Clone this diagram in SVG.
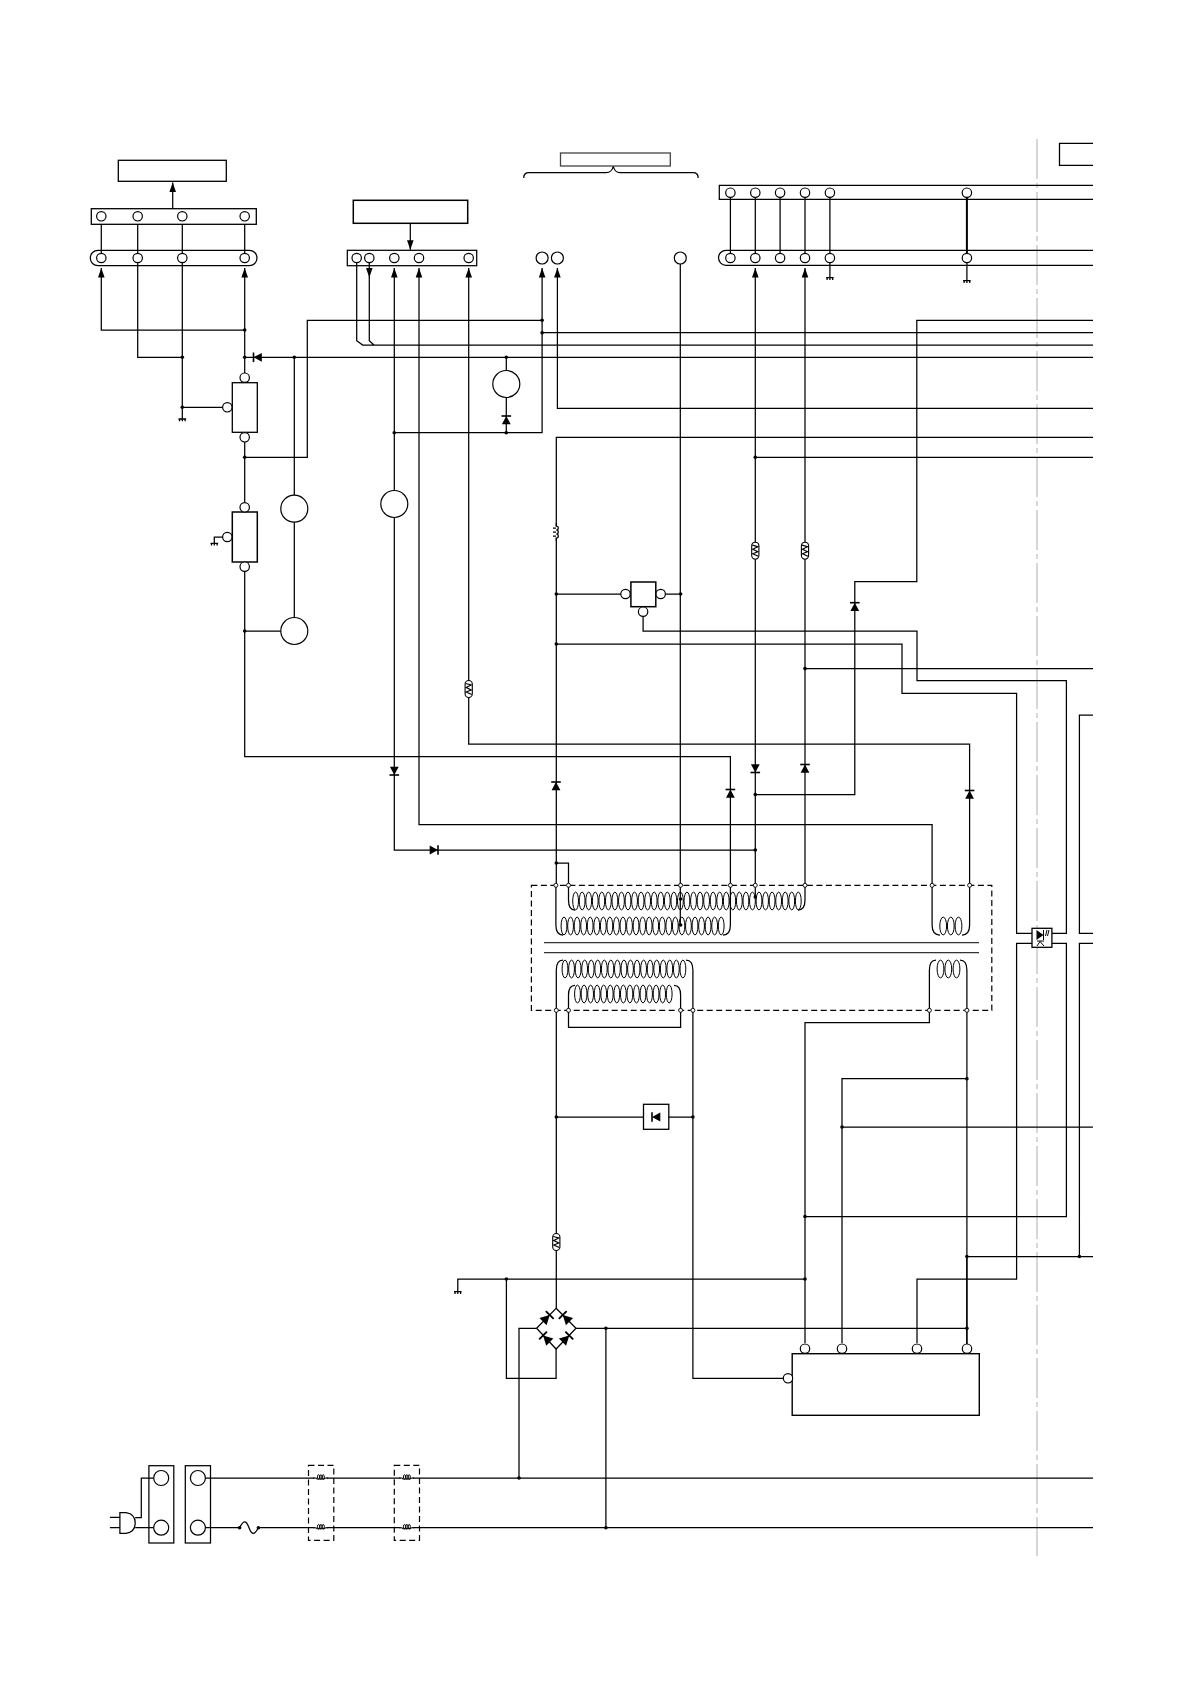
<svg xmlns="http://www.w3.org/2000/svg" xmlns:xlink="http://www.w3.org/1999/xlink" width="1191" height="1685" viewBox="0 0 1191 1685">
<style>
.w{fill:none;stroke:#000;stroke-width:1.25}
.a{fill:none;stroke:#000;stroke-width:1.25;marker-end:url(#arr)}
.b{fill:#fff;stroke:#000;stroke-width:1.3}
.t{fill:#fff;stroke:#000;stroke-width:1.2}
.o{fill:#fff;stroke:#000;stroke-width:.9}
.d{fill:#000}
.dash{fill:none;stroke:#000;stroke-width:1.2;stroke-dasharray:6 3.5}
.l{fill:none;stroke:#000;stroke-width:1}
.core{fill:none;stroke:#333;stroke-width:1.3}
.c{fill:none;stroke:#ccc;stroke-width:1.6;stroke-dasharray:40 4 5 4}
</style>
<defs>
<marker id="arr" markerUnits="userSpaceOnUse" markerWidth="10" markerHeight="10" refX="9.5" refY="5" orient="auto"><path d="M0 1.7 L9.5 5 L0 8.3Z" fill="#000"/></marker>
<circle id="p" r="4.7" class="t"/>
<circle id="s" r="2" class="o"/>
<circle id="j" r="1.8" class="d"/>
<g id="gnd"><path d="M-3.8 0H3.8M-2.8 0V2.2M0 0V2.2M2.8 0V2.2" fill="none" stroke="#000" stroke-width="1.3"/></g>
<g id="dio"><path d="M-4.3 -4.4L4 0L-4.3 4.4Z" fill="#000"/><path d="M4 -4.8V4.8" stroke="#000" stroke-width="1.6"/></g>
<g id="coil"><rect x="-3.6" y="-8.5" width="7.2" height="17" rx="3.6" class="t" style="stroke-width:1.1"/><path d="M-3 -5.5L2.5 -4L-2.5 -1.5L2.5 1L-2.5 3L3 5.5" fill="none" stroke="#000" stroke-width="1.2"/></g>
<g id="mc"><rect x="-6" y="-4.5" width="12" height="6" fill="#fff"/><path d="M-7.5 0H-5.5Q-4 0 -3.5 1H3.5Q4 0 5.5 0H7.5" fill="none" stroke="#000" stroke-width="1.1"/><ellipse cx="-2" cy="-1" rx="1.1" ry="2.3" fill="none" stroke="#000" stroke-width="1"/><ellipse cx="0.3" cy="-1" rx="1.1" ry="2.3" fill="none" stroke="#000" stroke-width="1"/><ellipse cx="2.6" cy="-1" rx="1.1" ry="2.3" fill="none" stroke="#000" stroke-width="1"/></g>
<ellipse id="l1" rx="2.9" ry="8.9" class="l"/>
<g id="l5"><use xlink:href="#l1"/><use xlink:href="#l1" x="6.55"/><use xlink:href="#l1" x="13.1"/><use xlink:href="#l1" x="19.65"/><use xlink:href="#l1" x="26.2"/></g>
<g id="l10"><use xlink:href="#l5"/><use xlink:href="#l5" x="32.75"/></g>
</defs>

<path id="centre-line" class="c" d="M1037 139V1556"/>

<g id="connectors">
<path class="a" d="M244.7 330H101.3V268"/>
<path class="a" d="M244.7 372.9V268"/>
<path class="w" d="M182.3 357.3H137.7V258M182.3 419V258M182.3 407.3H222.6M1093 357.3H244.7M294.3 357.3V495.3M294.3 522V617.5M244.7 442V502.6M244.7 457.3H307.3V320.3H542.1M244.7 571.4V756.5H730.4V885.3M244.7 631H281M222.6 537H214.3V543.3"/>
<path class="w" d="M101.3 216.3V258M137.7 216.3V258M182.3 216.3V258M244.7 216.3V258"/>
<path class="a" d="M172.7 208.7V182.4"/>
<path class="a" d="M410.3 223.5V249.8"/>
<path class="w" d="M356.7 258V340.7L362.7 345H1093M369.3 277V340.7L374 345"/>
<path class="a" d="M369.3 258V277.4"/>
<path class="a" d="M755.3 850H394.3V268"/>
<path class="a" d="M394.3 432.7H542.1V268"/>
<path class="w" d="M506.3 357.3V370.5M506.3 397.5V432.7M542.1 332.7H1093"/>
<path class="a" d="M932.1 885.3V824.5H419V268"/>
<path class="a" d="M969.6 885.3V744H468.7V268"/>
<path class="a" d="M1093 408.3H557.4V268"/>
<path class="w" d="M1093 437.3H556.3V885.3"/>
<path class="a" d="M755.3 897V268"/>
<path class="a" d="M805 885.3V268"/>
<path class="w" d="M755.3 457.3H1093M805 668.6H1093M680.3 264V925M1093 320.3H916.8V581.7H854.8V794.6H755.3"/>
<path class="w" d="M556.3 594H621M665.4 594H680.3M643.1 616.4V631H917V680.5H1066.4V933.3H1052M556.3 644H902V693.4H1016.6V933.3H1032M1032 943.3H1016.6V1279H917V1343M1052 943.3H1066.4V1216.5H805M1093 715H1079.4V933.3H1093M1093 943.3H1079.4V1256.5M966.9 1256.5H1093"/>
<path class="w" d="M556.3 1010.3V1308.3M692.9 1010.3V1378.3H783.3M568.5 1010.3V1027.3H680.6V1010.3M929.4 1010.3V1022.7H805V1343M842 1343V1078.7H966.9M842 1127H1093M556.3 1117H692.9M457.8 1291.7V1279H805M506.4 1279V1378.3H556.1V1349M536.6 1328.3H519V1478M576 1328.3H966.9M605.9 1328.3V1527.7M556.3 863H568.5V885.3"/>
<path class="w" d="M966.9 1010.3V1256.5"/>
<path fill="none" stroke="#000" stroke-width="1.7" d="M966.9 1256.5V1344"/>
<path class="w" d="M205.4 1478H1093M205.4 1527.7H239.6M258.4 1527.7H1093M135.2 1517.7H141.3V1478H153.7M135.2 1527.7H153.7"/>
<path class="w" d="M730.4 192.7V258M755.3 192.7V258M780.1 192.7V258M805 192.7V258M829.9 192.7V258"/>
<path fill="none" stroke="#000" stroke-width="2" d="M966.9 192.7V258"/>
<path class="w" d="M829.9 258V277.7M966.9 258V280.7"/>
<path class="w" d="M523.7 178Q523.7 172.7 529 172.7H606Q612 172.7 613.3 166Q614.6 172.7 620 172.7H693Q698.2 172.7 698.2 178"/>
<g id="junctions">
<use xlink:href="#j" x="244.7" y="330"/><use xlink:href="#j" x="244.7" y="357.3"/><use xlink:href="#j" x="182.3" y="357.3"/><use xlink:href="#j" x="182.3" y="407.3"/><use xlink:href="#j" x="244.7" y="457.3"/><use xlink:href="#j" x="244.7" y="631"/><use xlink:href="#j" x="294.3" y="357.3"/><use xlink:href="#j" x="542.1" y="320.3"/><use xlink:href="#j" x="542.1" y="332.7"/><use xlink:href="#j" x="506.3" y="357.3"/><use xlink:href="#j" x="506.3" y="432.7"/><use xlink:href="#j" x="394.3" y="432.7"/><use xlink:href="#j" x="755.3" y="457.3"/><use xlink:href="#j" x="556.3" y="594"/><use xlink:href="#j" x="680.6" y="594"/><use xlink:href="#j" x="556.3" y="644"/><use xlink:href="#j" x="805" y="668.6"/><use xlink:href="#j" x="755.3" y="794.6"/><use xlink:href="#j" x="755.3" y="850"/><use xlink:href="#j" x="556.3" y="863"/><use xlink:href="#j" x="966.9" y="1078.7"/><use xlink:href="#j" x="842" y="1127"/><use xlink:href="#j" x="556.3" y="1117"/><use xlink:href="#j" x="692.9" y="1117"/><use xlink:href="#j" x="805" y="1216.5"/><use xlink:href="#j" x="966.9" y="1256.5"/><use xlink:href="#j" x="1079.4" y="1256.5"/><use xlink:href="#j" x="506.4" y="1279"/><use xlink:href="#j" x="805" y="1279"/><use xlink:href="#j" x="966.9" y="1328.3"/><use xlink:href="#j" x="605.9" y="1328.3"/><use xlink:href="#j" x="519" y="1478"/><use xlink:href="#j" x="605.9" y="1527.7"/><use xlink:href="#j" x="680.6" y="899"/><use xlink:href="#j" x="680.6" y="925"/><use xlink:href="#j" x="755.3" y="897"/>
</g>
<g id="grounds">
<use xlink:href="#gnd" x="182.3" y="419"/><use xlink:href="#gnd" x="214.3" y="543.3"/><use xlink:href="#gnd" x="829.9" y="277.7"/><use xlink:href="#gnd" x="966.9" y="280.7"/><use xlink:href="#gnd" x="457.8" y="1291.7"/>
</g>
<g id="diodes">
<use xlink:href="#dio" transform="translate(257.5 357.3) rotate(180)"/>
<use xlink:href="#dio" transform="translate(506.3 420) rotate(-90)"/>
<use xlink:href="#dio" transform="translate(854.8 606.7) rotate(-90)"/>
<use xlink:href="#dio" transform="translate(394.3 771) rotate(90)"/>
<use xlink:href="#dio" transform="translate(434 850)"/>
<use xlink:href="#dio" transform="translate(556 786) rotate(-90)"/>
<use xlink:href="#dio" transform="translate(730.4 793.5) rotate(-90)"/>
<use xlink:href="#dio" transform="translate(755.3 768.5) rotate(90)"/>
<use xlink:href="#dio" transform="translate(805 768.5) rotate(-90)"/>
<use xlink:href="#dio" transform="translate(969.6 794.5) rotate(-90)"/>
</g>
<g id="inline-coils">
<use xlink:href="#coil" x="468.7" y="689"/><use xlink:href="#coil" x="755.3" y="550.7"/><use xlink:href="#coil" x="805" y="550.7"/><use xlink:href="#coil" x="556.3" y="1242"/>
<path fill="#fff" d="M554 526h4v12h-4z"/>
<path class="w" d="M556.3 523V526A2 2 0 1 1 556.3 530A2 2 0 1 1 556.3 534A2 2 0 1 1 556.3 538V541M553 528H556M553 532H556M553 536H556"/>
</g>
</g>

<g id="n-box1"><rect class="b" x="118.3" y="160.3" width="108" height="21"/></g>
<g id="n-conn1"><rect class="b" x="91.3" y="208.7" width="165" height="15.6"/><use xlink:href="#p" x="101.3" y="216.3"/><use xlink:href="#p" x="137.7" y="216.3"/><use xlink:href="#p" x="182.3" y="216.3"/><use xlink:href="#p" x="244.7" y="216.3"/></g>
<g id="n-conn1b"><rect class="w" x="90.3" y="250.3" width="166.7" height="15.4" rx="7.7"/><use xlink:href="#p" x="101.3" y="258"/><use xlink:href="#p" x="137.7" y="258"/><use xlink:href="#p" x="182.3" y="258"/><use xlink:href="#p" x="244.7" y="258"/></g>
<g id="n-box2"><rect class="b" x="353.3" y="200.3" width="114.4" height="23" style="stroke-width:1.5"/></g>
<g id="n-conn2"><rect class="w" x="347.3" y="250.3" width="129.4" height="15.4"/><use xlink:href="#p" x="356.7" y="258"/><use xlink:href="#p" x="369.3" y="258"/><use xlink:href="#p" x="394.3" y="258"/><use xlink:href="#p" x="419" y="258"/><use xlink:href="#p" x="468.7" y="258"/></g>
<g id="n-box3"><rect class="b" x="560.5" y="153" width="109.8" height="13" style="stroke:#444"/></g>
<g id="n-term3"><circle class="t" cx="542.1" cy="258" r="6"/><circle class="t" cx="557.4" cy="258" r="6"/><circle class="t" cx="680.3" cy="258" r="6"/></g>
<g id="n-box4"><path class="b" style="fill:none" d="M1093 143.3H1059.5V165.3H1093"/></g>
<g id="n-conn4"><path class="w" d="M1093 185.3H719.3V199.3H1093"/><use xlink:href="#p" x="730.4" y="192.7"/><use xlink:href="#p" x="755.3" y="192.7"/><use xlink:href="#p" x="780.1" y="192.7"/><use xlink:href="#p" x="805" y="192.7"/><use xlink:href="#p" x="829.9" y="192.7"/><use xlink:href="#p" x="966.9" y="192.7"/></g>
<g id="n-conn4b"><path class="w" d="M1093 250.3H726A7.5 7.5 0 0 0 726 265.3H1093"/><use xlink:href="#p" x="730.4" y="258"/><use xlink:href="#p" x="755.3" y="258"/><use xlink:href="#p" x="780.1" y="258"/><use xlink:href="#p" x="805" y="258"/><use xlink:href="#p" x="829.9" y="258"/><use xlink:href="#p" x="966.9" y="258"/></g>
<g id="n-reg1"><rect class="b" x="232.3" y="382.7" width="25" height="49.6"/><use xlink:href="#p" x="244.7" y="377.7"/><use xlink:href="#p" x="244.7" y="437.3"/><use xlink:href="#p" x="227.3" y="407.3"/></g>
<g id="n-reg2"><rect class="b" x="232.3" y="512" width="25" height="50" style="stroke-width:1.5"/><use xlink:href="#p" x="244.7" y="507.3"/><use xlink:href="#p" x="244.7" y="566.7"/><use xlink:href="#p" x="227.3" y="537"/></g>
<g id="n-m1"><circle class="t" cx="294.3" cy="508.7" r="13.5"/></g>
<g id="n-m2"><circle class="t" cx="294.3" cy="631" r="13.5"/></g>
<g id="n-m3"><circle class="t" cx="394.3" cy="504" r="13.5"/></g>
<g id="n-m4"><circle class="t" cx="506.3" cy="384" r="13.5"/></g>
<g id="n-ic1"><rect class="b" x="630.9" y="582" width="24.9" height="24.7" style="stroke-width:1.5"/><use xlink:href="#p" x="625.5" y="594"/><use xlink:href="#p" x="660.7" y="594"/><use xlink:href="#p" x="643.1" y="611.7"/></g>

<g id="n-transformer">
<rect class="dash" x="531.4" y="885.3" width="460.4" height="125"/>
<path class="core" d="M544 942.7H979M544 952.7H979"/>
<path class="w" d="M568.5 885.3V900Q568.5 910 575 910M798 910Q805 910 805 900V885.3"/>
<use xlink:href="#l10" x="575.6" y="901"/><use xlink:href="#l10" x="641.1" y="901"/><use xlink:href="#l10" x="706.6" y="901"/><use xlink:href="#l5" x="772.1" y="901"/>
<path class="w" d="M555.9 885.3V925Q555.9 935 563 935M723 935Q730.4 935 730.4 925V885.3"/>
<use xlink:href="#l10" x="564" y="926"/><use xlink:href="#l10" x="629.5" y="926"/><use xlink:href="#l5" x="695" y="926"/>
<path class="w" d="M932.1 885.3V925Q932.1 935 940 935M962 935Q969.6 935 969.6 925V885.3"/>
<ellipse class="l" cx="943.2" cy="926" rx="3.4" ry="8.9"/><ellipse class="l" cx="950.8" cy="926" rx="3.4" ry="8.9"/><ellipse class="l" cx="958.5" cy="926" rx="3.4" ry="8.9"/>
<path class="w" d="M556.3 1010.3V970Q556.3 960 563 960M686 960Q692.9 960 692.9 970V1010.3"/>
<use xlink:href="#l10" x="565" y="969"/><use xlink:href="#l5" x="630.5" y="969"/><use xlink:href="#l1" x="663.25" y="969"/><use xlink:href="#l1" x="669.8" y="969"/><use xlink:href="#l1" x="676.35" y="969"/><use xlink:href="#l1" x="682.9" y="969"/>
<path class="w" d="M568.5 1010.3V995Q568.5 985.3 575 985.3M674 985.3Q680.6 985.3 680.6 995V1010.3"/>
<use xlink:href="#l10" x="577.5" y="994"/><use xlink:href="#l5" x="643" y="994"/>
<path class="w" d="M929.4 1010.3V970Q929.4 960 936 960M960 960Q966.9 960 966.9 970V1010.3"/>
<ellipse class="l" cx="940.5" cy="969" rx="3.4" ry="8.9"/><ellipse class="l" cx="948.3" cy="969" rx="3.4" ry="8.9"/><ellipse class="l" cx="956.5" cy="969" rx="3.4" ry="8.9"/>
<use xlink:href="#s" x="555.9" y="885.3"/><use xlink:href="#s" x="568.5" y="885.3"/><use xlink:href="#s" x="680.6" y="885.3"/><use xlink:href="#s" x="730.4" y="885.3"/><use xlink:href="#s" x="755.3" y="885.3"/><use xlink:href="#s" x="805" y="885.3"/><use xlink:href="#s" x="932.1" y="885.3"/><use xlink:href="#s" x="969.6" y="885.3"/>
<use xlink:href="#s" x="556.3" y="1010.3"/><use xlink:href="#s" x="568.5" y="1010.3"/><use xlink:href="#s" x="680.6" y="1010.3"/><use xlink:href="#s" x="692.9" y="1010.3"/><use xlink:href="#s" x="929.4" y="1010.3"/><use xlink:href="#s" x="966.9" y="1010.3"/>
</g>

<g id="n-opto"><rect class="b" x="1032" y="928.3" width="19.9" height="19"/><path d="M1036.5 930L1043.5 935L1036.5 940Z" fill="#000"/><path d="M1043.5 930V940M1037 941H1044M1040 941.5L1037 946M1040 941.5L1044 946M1047 930L1045.5 936M1049 930L1047.5 936" fill="none" stroke="#000" stroke-width="1"/></g>
<g id="n-dbox"><rect class="b" x="643.5" y="1104.3" width="25.3" height="25"/><use xlink:href="#dio" transform="translate(656 1117) rotate(180)"/></g>
<g id="n-bridge"><path class="w" d="M556.1 1308.3L576 1328.3L556.1 1349L536.6 1328.3Z"/>
<use xlink:href="#dio" transform="translate(546.5 1318.2) rotate(-45) scale(1.15)"/>
<use xlink:href="#dio" transform="translate(566 1318.2) rotate(-135) scale(1.15)"/>
<use xlink:href="#dio" transform="translate(546.3 1338.7) rotate(-135) scale(1.15)"/>
<use xlink:href="#dio" transform="translate(566 1338.7) rotate(-45) scale(1.15)"/></g>
<g id="n-psu"><rect class="b" x="792.2" y="1353.7" width="187.1" height="61.6" style="stroke-width:1.4"/><use xlink:href="#p" x="805" y="1348.7"/><use xlink:href="#p" x="842" y="1348.7"/><use xlink:href="#p" x="917" y="1348.7"/><use xlink:href="#p" x="967" y="1348.7"/><use xlink:href="#p" x="788" y="1378.3"/></g>
<g id="n-plug"><path class="w" d="M109.9 1517.3H119.9M109.9 1527.7H119.9"/><path class="w" d="M119.9 1512.7H126Q135.2 1514 135.2 1523Q135.2 1532 126 1533.3H119.9Z"/></g>
<g id="n-socket1"><rect class="w" x="148.9" y="1465.7" width="24.9" height="77.3"/><circle class="t" cx="161.2" cy="1478" r="7.5"/><circle class="t" cx="161.2" cy="1527.7" r="7.5"/></g>
<g id="n-socket2"><rect class="w" x="185.3" y="1465.7" width="25.2" height="77.3"/><circle class="t" cx="197.9" cy="1478" r="7.5"/><circle class="t" cx="197.9" cy="1527.7" r="7.5"/></g>
<g id="n-fuse"><path class="w" d="M239.6 1527.7C244 1519 246.5 1521 249 1527.7S254 1536 258.4 1527.7"/><use xlink:href="#j" x="239.6" y="1527.7"/><use xlink:href="#j" x="258.4" y="1527.7"/></g>
<g id="n-lf1"><rect class="dash" x="308.5" y="1465.3" width="25.3" height="75"/><use xlink:href="#mc" x="320.6" y="1478"/><use xlink:href="#mc" x="320.6" y="1527.7"/></g>
<g id="n-lf2"><rect class="dash" x="394.3" y="1465.3" width="25.2" height="75"/><use xlink:href="#mc" x="406.6" y="1478"/><use xlink:href="#mc" x="406.6" y="1527.7"/></g>
</svg>
